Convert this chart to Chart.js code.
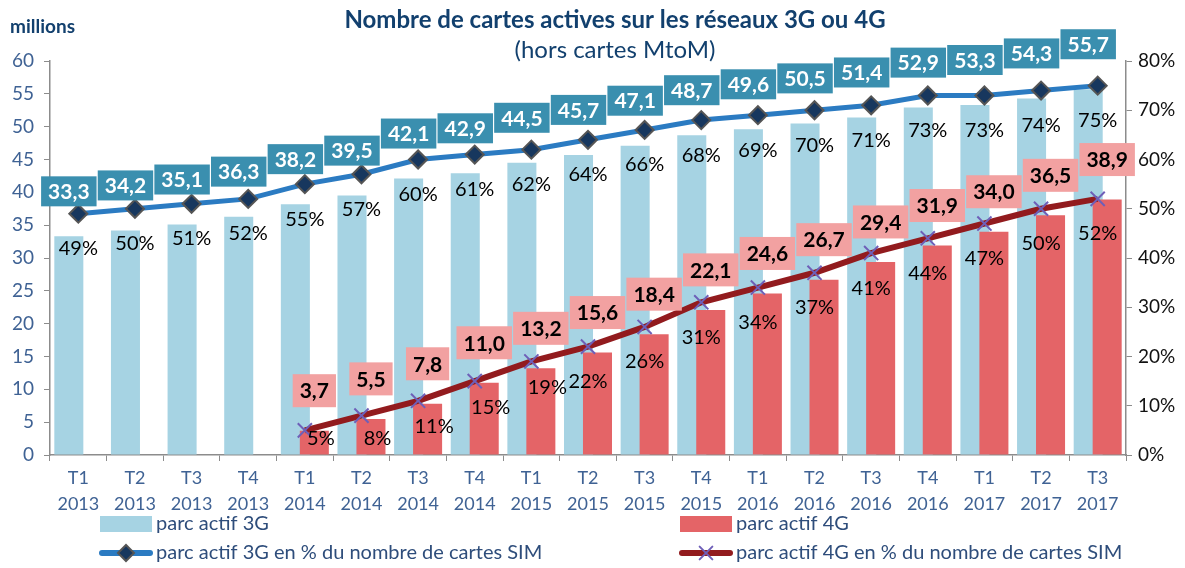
<!DOCTYPE html>
<html>
<head>
<meta charset="utf-8">
<title>Cartes actives 3G / 4G</title>
<script src="https://cdn.jsdelivr.net/npm/chart.js@4.4.1/dist/chart.umd.min.js"></script>
<style>
  html, body { margin: 0; padding: 0; background: #fff; }
  #wrap { width: 1185px; height: 568px; position: relative; }
</style>
</head>
<body>
<div id="wrap"><canvas id="cartesChart"></canvas></div>
<script>
/* data */
const quarters = ["T1","T2","T3","T4","T1","T2","T3","T4","T1","T2","T3","T4","T1","T2","T3","T4","T1","T2","T3"];
const years    = ["2013","2013","2013","2013","2014","2014","2014","2014","2015","2015","2015","2015","2016","2016","2016","2016","2017","2017","2017"];
const parc3G   = [33.3,34.2,35.1,36.3,38.2,39.5,42.1,42.9,44.5,45.7,47.1,48.7,49.6,50.5,51.4,52.9,53.3,54.3,55.7];
const parc4G   = [null,null,null,null,3.7,5.5,7.8,11.0,13.2,15.6,18.4,22.1,24.6,26.7,29.4,31.9,34.0,36.5,38.9];
const pct3G    = [49,50,51,52,55,57,60,61,62,64,66,68,69,70,71,73,73,74,75];
const pct4G    = [null,null,null,null,5,8,11,15,19,22,26,31,34,37,41,44,47,50,52];

/* axes */
const millionsMax = 60, millionsStep = 5;
const pctMax = 80, pctStep = 10;

const C = {
  bar3G: "#A6D3E3",
  bar4G: "#E46467",
  line3G: "#2B7BC2",
  mark3G: "#17375E",
  line4G: "#921B1E",
  mark4G: "#6E5FB8",
  box3G: "#3A8FAF",
  box4G: "#F2A1A1",
  navy: "#12406E",
  tick: "#3F6294",
  axis: "#8C8C8C"
};

Chart.defaults.font.family = "Lato, 'Open Sans', sans-serif";

const fmt = v => v.toFixed(1).replace(".", ",");

/* 4G bars drawn over 3G bars (they overlap) */
const barOrder = {
  id: "barOrder",
  beforeDatasetDraw(chart, args) {
    if (args.index === 1) chart.getDatasetMeta(0).controller.draw();
    if (args.index === 0) return false;
  }
};

/* value boxes and percentage labels */
const labels = {
  id: "labels",
  afterDatasetsDraw(chart) {
    const ctx = chart.ctx;
    const bottom = chart.chartArea.bottom;
    ctx.save();
    ctx.textAlign = "center";
    ctx.textBaseline = "middle";

    ctx.font = "20px Lato";
    ctx.fillStyle = "#000";
    chart.getDatasetMeta(2).data.forEach((pt, i) => {
      if (pct3G[i] == null) return;
      ctx.fillText(pct3G[i] + "%", pt.x, pt.y + 35);
    });
    chart.getDatasetMeta(3).data.forEach((pt, i) => {
      if (pct4G[i] == null) return;
      let dx = 0, dy = 35;
      if (bottom - pt.y < 100) { dx = 16; dy = Math.min(26, bottom - 16 - pt.y); }
      ctx.fillText(pct4G[i] + "%", pt.x + dx, pt.y + dy);
    });

    ctx.font = "bold 21px Lato";
    [[0, parc3G, C.box3G, "#fff", 45, 30], [1, parc4G, C.box4G, "#000", 40, 33]].forEach(([idx, vals, bg, fg, off, h]) => {
      chart.getDatasetMeta(idx).data.forEach((bar, i) => {
        if (vals[i] == null) return;
        const txt = fmt(vals[i]);
        const w = ctx.measureText(txt).width + 14;
        const cy = bar.y - off;
        ctx.fillStyle = bg;
        ctx.fillRect(bar.x - w / 2, cy - h / 2, w, h);
        ctx.fillStyle = fg;
        ctx.fillText(txt, bar.x, cy + 1);
      });
    });
    ctx.restore();
  }
};

/* titles and legend */
const frame = {
  id: "frame",
  afterDraw(chart) {
    const ctx = chart.ctx;
    const { left, right, bottom } = chart.chartArea;
    const cx = (left + right) / 2 + 27;
    ctx.save();
    ctx.textAlign = "center";
    ctx.textBaseline = "middle";
    ctx.fillStyle = C.navy;
    ctx.font = "bold 24px Lato";
    ctx.fillText("Nombre de cartes actives sur les réseaux 3G ou 4G", cx, 20);
    ctx.font = "24px Lato";
    ctx.fillText("(hors cartes MtoM)", cx, 50);
    ctx.textAlign = "left";
    ctx.font = "bold 19px Lato";
    ctx.fillText("millions", 10, 27);

    const cols = [left + 50, left + 630];
    const rows = [bottom + 69, bottom + 98];
    const items = [
      { col: 0, row: 0, text: "parc actif 3G", bar: C.bar3G },
      { col: 1, row: 0, text: "parc actif 4G", bar: C.bar4G },
      { col: 0, row: 1, text: "parc actif 3G en % du nombre de cartes SIM", line: C.line3G, style: "rectRot", mark: C.mark3G, markBorder: "#555", r: 8 },
      { col: 1, row: 1, text: "parc actif 4G en % du nombre de cartes SIM", line: C.line4G, style: "crossRot", mark: C.mark4G, markBorder: C.mark4G, r: 9 }
    ];
    ctx.font = "20px Lato";
    items.forEach(it => {
      const x = cols[it.col], y = rows[it.row];
      if (it.bar) {
        ctx.fillStyle = it.bar;
        ctx.fillRect(x, y - 8, 52, 16);
      } else {
        ctx.strokeStyle = it.line;
        ctx.lineWidth = 6;
        ctx.lineCap = "round";
        ctx.beginPath();
        ctx.moveTo(x + 2, y);
        ctx.lineTo(x + 50, y);
        ctx.stroke();
        ctx.fillStyle = it.mark;
        ctx.strokeStyle = it.markBorder;
        ctx.lineWidth = 2;
        Chart.helpers.drawPoint(ctx, { pointStyle: it.style, radius: it.r, borderWidth: 2 }, x + 26, y);
      }
      ctx.fillStyle = "#2E4D7B";
      ctx.fillText(it.text, x + 56, y);
    });
    ctx.restore();
  }
};

new Chart(document.getElementById("cartesChart"), {
  type: "bar",
  data: {
    labels: quarters.map((q, i) => [q, years[i]]),
    datasets: [
      {
        label: "parc actif 3G",
        data: parc3G,
        backgroundColor: C.bar3G,
        yAxisID: "y",
        order: 2
      },
      {
        label: "parc actif 4G",
        data: parc4G,
        backgroundColor: C.bar4G,
        yAxisID: "y",
        order: 3
      },
      {
        type: "line",
        label: "parc actif 3G en % du nombre de cartes SIM",
        data: pct3G,
        borderColor: C.line3G,
        borderWidth: 5,
        pointStyle: "rectRot",
        pointRadius: 9,
        pointBackgroundColor: C.mark3G,
        pointBorderColor: "#555",
        pointBorderWidth: 2,
        tension: 0,
        yAxisID: "y2",
        order: 0
      },
      {
        type: "line",
        label: "parc actif 4G en % du nombre de cartes SIM",
        data: pct4G,
        borderColor: C.line4G,
        borderWidth: 6,
        pointStyle: "crossRot",
        pointRadius: 10,
        pointBorderColor: C.mark4G,
        pointBorderWidth: 2,
        tension: 0,
        yAxisID: "y2",
        order: 1
      }
    ]
  },
  options: {
    responsive: true,
    maintainAspectRatio: false,
    animation: false,
    layout: { padding: { top: 61, left: 0, right: 0, bottom: 0 } },
    datasets: {
      bar: { categoryPercentage: 0.67, barPercentage: 1.53 }
    },
    plugins: {
      legend: { display: false },
      tooltip: { enabled: false }
    },
    scales: {
      x: {
        offset: true,
        grid: { offset: true, drawOnChartArea: false, tickLength: 6, color: C.axis },
        border: { color: C.axis, width: 1.5 },
        ticks: { color: C.tick, font: { size: 18, lineHeight: 1.4 }, padding: 5, maxRotation: 0, autoSkip: false },
        afterFit: s => { s.height = 113; }
      },
      y: {
        position: "left",
        min: 0,
        max: millionsMax,
        grid: { drawOnChartArea: false, tickLength: 6, color: C.axis },
        border: { color: C.axis, width: 1.5 },
        ticks: { stepSize: millionsStep, color: C.tick, font: { size: 19 }, padding: 10 },
        afterFit: s => { s.width = 50; }
      },
      y2: {
        position: "right",
        min: 0,
        max: pctMax,
        grid: { drawOnChartArea: false, tickLength: 6, color: C.axis },
        border: { color: C.axis, width: 1.5 },
        ticks: { stepSize: pctStep, color: "#111", font: { size: 19 }, padding: 6, callback: v => v + "%" },
        afterFit: s => { s.width = 59; }
      }
    }
  },
  plugins: [barOrder, labels, frame]
});
</script>
</body>
</html>
